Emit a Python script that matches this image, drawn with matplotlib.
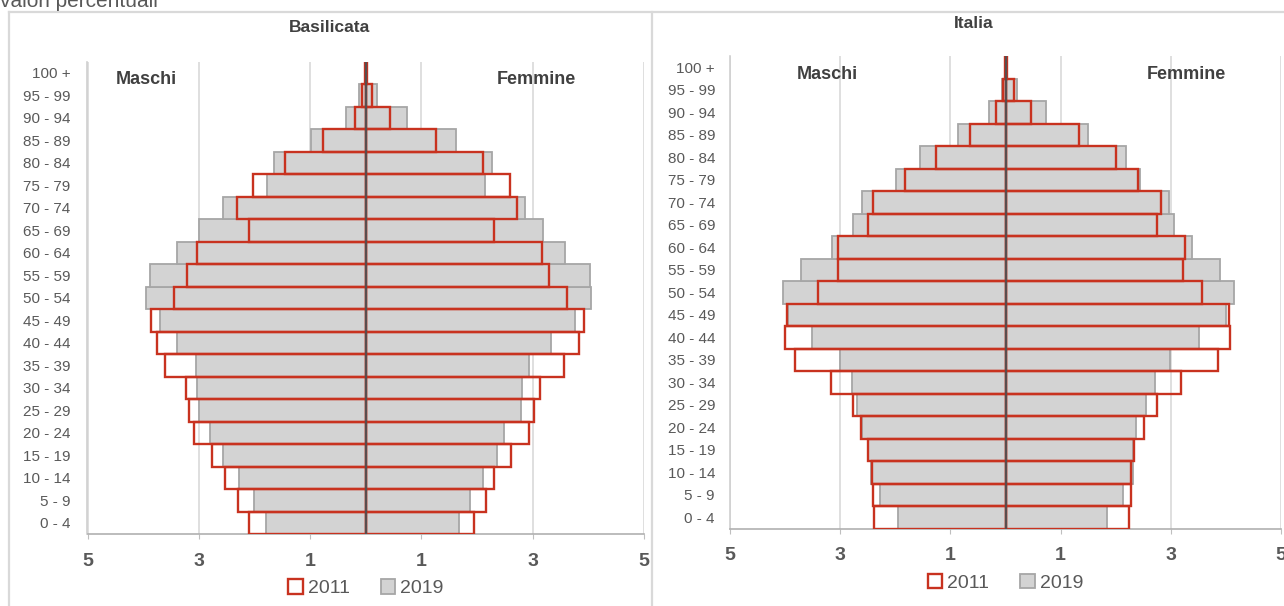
import numpy as np
import matplotlib
matplotlib.use('Agg')
import matplotlib.pyplot as plt
from matplotlib.patches import Patch
from matplotlib.lines import Line2D

plt.rcParams['font.family'] = ['Liberation Sans', 'DejaVu Sans']

ages = ['0 - 4', '5 - 9', '10 - 14', '15 - 19', '20 - 24', '25 - 29', '30 - 34',
        '35 - 39', '40 - 44', '45 - 49', '50 - 54', '55 - 59', '60 - 64', '65 - 69',
        '70 - 74', '75 - 79', '80 - 84', '85 - 89', '90 - 94', '95 - 99', '100 +']

# Basilicata (percent values)
bas_m_2019 = [1.80, 2.00, 2.28, 2.57, 2.80, 3.00, 3.03, 3.05, 3.40, 3.70, 3.94,
              3.88, 3.39, 3.00, 2.57, 1.78, 1.64, 0.99, 0.36, 0.12, 0.02]
bas_f_2019 = [1.68, 1.88, 2.11, 2.36, 2.48, 2.79, 2.80, 2.94, 3.33, 3.76, 4.04,
              4.03, 3.58, 3.19, 2.87, 2.15, 2.27, 1.62, 0.75, 0.20, 0.03]
bas_m_2011 = [2.09, 2.29, 2.53, 2.77, 3.09, 3.17, 3.23, 3.60, 3.76, 3.85, 3.45,
              3.22, 3.04, 2.09, 2.32, 2.02, 1.46, 0.76, 0.20, 0.06, 0.01]
bas_f_2011 = [1.95, 2.16, 2.31, 2.61, 2.94, 3.03, 3.13, 3.57, 3.83, 3.93, 3.62,
              3.29, 3.16, 2.30, 2.72, 2.60, 2.10, 1.27, 0.43, 0.11, 0.02]

# Italia (percent values)
ita_m_2019 = [1.96, 2.28, 2.45, 2.49, 2.60, 2.70, 2.79, 3.01, 3.51, 3.95, 4.03,
              3.71, 3.14, 2.76, 2.60, 1.98, 1.56, 0.86, 0.30, 0.06, 0.01]
ita_f_2019 = [1.85, 2.14, 2.31, 2.32, 2.37, 2.55, 2.71, 2.99, 3.52, 4.01, 4.15,
              3.90, 3.39, 3.05, 2.97, 2.44, 2.18, 1.49, 0.73, 0.20, 0.03]
ita_m_2011 = [2.38, 2.41, 2.42, 2.49, 2.62, 2.76, 3.17, 3.82, 4.01, 3.96, 3.40,
              3.04, 3.04, 2.49, 2.40, 1.82, 1.26, 0.64, 0.17, 0.04, 0.01]
ita_f_2011 = [2.25, 2.27, 2.27, 2.33, 2.51, 2.75, 3.19, 3.86, 4.07, 4.05, 3.56,
              3.23, 3.26, 2.75, 2.83, 2.40, 2.01, 1.33, 0.47, 0.15, 0.02]

xticks = [-5, -3, -1, 1, 3, 5]
xticklabels = ['5', '3', '1', '1', '3', '5']

RED = '#c8321f'
GRAY = '#d3d3d3'
GRAY_EDGE = '#a6a6a6'
TXT = '#595959'

W, H = 1284, 606
fig = plt.figure(figsize=(W / 100, H / 100), dpi=100)


def draw_pyramid(rect, m19, f19, m11, f11, maschi_x, femmine_x, label_pad):
    ax = fig.add_axes(rect)
    y = np.arange(len(ages))
    m19 = np.array(m19)
    f19 = np.array(f19)
    m11 = np.array(m11)
    f11 = np.array(f11)

    # 2019 filled gray, 2011 red outline on top
    ax.barh(y, -m19, height=1.0, color=GRAY, edgecolor=GRAY_EDGE, linewidth=1.3, zorder=2)
    ax.barh(y, f19, height=1.0, color=GRAY, edgecolor=GRAY_EDGE, linewidth=1.3, zorder=2)
    ax.barh(y, -m11, height=1.0, fill=False, edgecolor=RED, linewidth=1.7, zorder=3)
    ax.barh(y, f11, height=1.0, fill=False, edgecolor=RED, linewidth=1.7, zorder=3)
    ax.axvline(0, color='#5a4d4d', linewidth=1.6, zorder=4)

    ax.set_xlim(-5, 5)
    ax.set_ylim(-0.5, len(ages) - 0.5)
    ax.set_xticks(xticks)
    ax.set_xticklabels(xticklabels, fontsize=14, fontweight='bold', color=TXT)
    ax.set_yticks(y)
    ax.set_yticklabels(ages, fontsize=11, color=TXT)
    ax.tick_params(axis='y', length=0, pad=label_pad)
    ax.tick_params(axis='x', length=3.5, color='#bfbfbf', direction='out', pad=10)
    ax.grid(axis='x', color='#d9d9d9', linewidth=1.2, zorder=0)
    ax.set_axisbelow(True)
    for s in ['top', 'right']:
        ax.spines[s].set_visible(False)
    ax.spines['left'].set_color('#d0d0d0')
    ax.spines['left'].set_linewidth(1.2)
    ax.spines['bottom'].set_color('#b0b0b0')
    ax.spines['bottom'].set_linewidth(1.2)

    ax.text(maschi_x, 19.7, 'Maschi', ha='center', va='center', fontsize=13,
            fontweight='bold', color='#404040', zorder=5)
    ax.text(femmine_x, 19.7, 'Femmine', ha='center', va='center', fontsize=13,
            fontweight='bold', color='#404040', zorder=5)

    handles = [Patch(facecolor='white', edgecolor=RED, linewidth=1.7),
               Patch(facecolor=GRAY, edgecolor=GRAY_EDGE, linewidth=1.3)]
    ax.legend(handles, ['2011', '2019'], loc='center', bbox_to_anchor=(0.5, -0.115),
              ncol=2, frameon=False, fontsize=14, labelcolor=TXT, handlelength=0.75,
              handleheight=0.75, handletextpad=0.25, columnspacing=1.6)
    return ax


# left panel: Basilicata
draw_pyramid([87.5 / W, 1 - 534 / H, 556.5 / W, 472.25 / H],
             bas_m_2019, bas_f_2019, bas_m_2011, bas_f_2011, -3.95, 3.07, 12.5)
# right panel: Italia
draw_pyramid([730 / W, 1 - 528.6 / H, 551 / W, 472.6 / H],
             ita_m_2019, ita_f_2019, ita_m_2011, ita_f_2011, -3.24, 3.29, 10.8)

fig.text(330 / W, 1 - 28 / H, 'Basilicata', ha='center', va='center', fontsize=12.5,
         fontweight='bold', color='#404040')
fig.text(974 / W, 1 - 24 / H, 'Italia', ha='center', va='center', fontsize=12.5,
         fontweight='bold', color='#404040')
fig.text(0.0, 1 - 7 / H, 'valori percentuali', ha='left', va='baseline', fontsize=15,
         color=TXT)

# panel borders
bc = '#d9d9d9'
fig.add_artist(Line2D([9 / W, 1.0], [1 - 12 / H, 1 - 12 / H], transform=fig.transFigure, color=bc, lw=1.6))
fig.add_artist(Line2D([9 / W, 9 / W], [0, 1 - 12 / H], transform=fig.transFigure, color=bc, lw=1.6))
fig.add_artist(Line2D([652 / W, 652 / W], [0, 1 - 12 / H], transform=fig.transFigure, color=bc, lw=1.6))

fig.savefig('out.png', dpi=100)
